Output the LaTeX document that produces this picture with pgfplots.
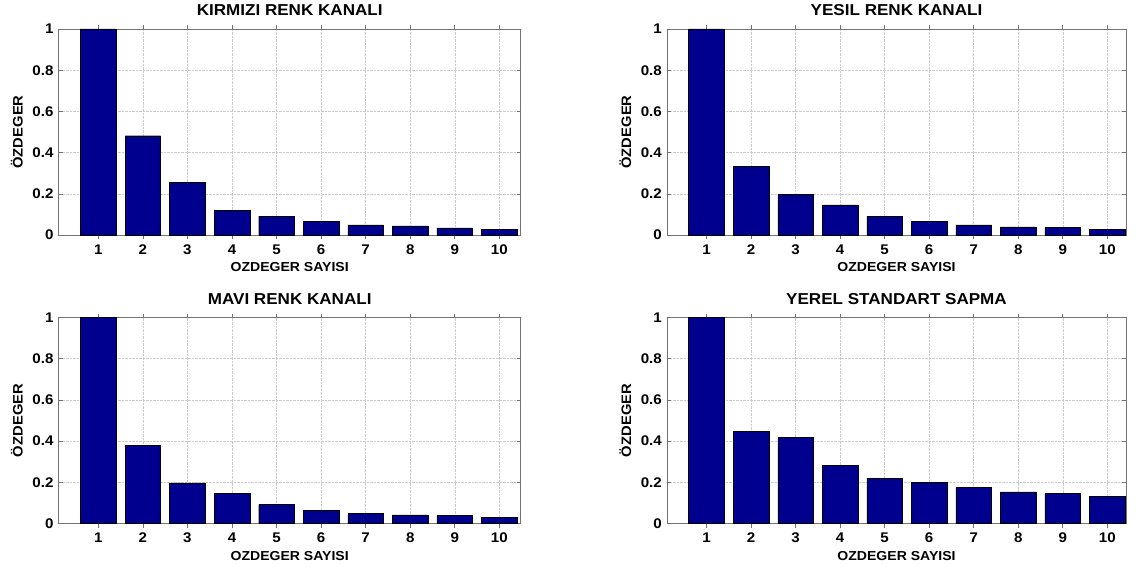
\documentclass[border=0pt]{standalone}
\usepackage{fontspec}
\setmainfont{Liberation Sans}[FakeStretch=1.08]
\usepackage{pgfplots}
\pgfplotsset{compat=1.18}
\definecolor{barblue}{RGB}{0,0,143}
\pgfplotsset{every axis title shift=0pt}
\pgfplotsset{panel/.style={
  scale only axis, anchor=south west,
  height=206pt,
  ymin=0, ymax=1, ytick={0,0.2,0.4,0.6,0.8,1},
  xtick={1,...,10},
  grid=major, major grid style={densely dotted, black!20, line width=0.5pt},
  axis line style={black!55, line width=0.6pt},
  tick style={black!55, line width=0.6pt}, tick align=inside, major tick length=4pt,
  /pgf/number format/assume math mode=true,
  ticklabel style={font=\fontsize{14}{17}\selectfont\bfseries},
  xticklabel style={anchor=base, inner sep=0pt, yshift=-15pt},
  yticklabel style={anchor=east, inner sep=0pt, xshift=-5pt},
  title style={at={(axis description cs:0.5,1)}, anchor=base, yshift=13pt, font=\fontsize{15.8}{19}\selectfont\bfseries},
  xlabel style={at={(axis description cs:0.5,0)}, anchor=base, yshift=-36.5pt, font=\fontsize{13}{16}\selectfont\bfseries},
  ylabel style={at={(axis description cs:-0.078,0.5)}, anchor=base, font=\fontsize{13.7}{16}\selectfont\bfseries},
  xlabel={OZDEGER SAYISI}, ylabel={ÖZDEGER},
  ybar, bar width=0.8,
}}
\begin{document}
\begin{tikzpicture}
\path[use as bounding box] (0,0) rectangle (1139pt,574pt);
\begin{axis}[panel, at={(58.7pt,339pt)}, width=462pt, xmin=0.111, xmax=10.48, title={KIRMIZI RENK KANALI}]
\addplot[fill=barblue, draw=black, line width=0.4pt] coordinates {(1,1) (2,0.482) (3,0.254) (4,0.120) (5,0.092) (6,0.066) (7,0.049) (8,0.044) (9,0.034) (10,0.029)};
\end{axis}
\begin{axis}[panel, at={(667pt,339pt)}, width=459pt, xmin=0.113, xmax=10.42, title={YESIL RENK KANALI}]
\addplot[fill=barblue, draw=black, line width=0.4pt] coordinates {(1,1) (2,0.333) (3,0.197) (4,0.146) (5,0.091) (6,0.066) (7,0.049) (8,0.040) (9,0.037) (10,0.029)};
\end{axis}
\begin{axis}[panel, at={(58.7pt,50.5pt)}, width=462pt, xmin=0.111, xmax=10.48, title={MAVI RENK KANALI}]
\addplot[fill=barblue, draw=black, line width=0.4pt] coordinates {(1,1) (2,0.378) (3,0.197) (4,0.147) (5,0.092) (6,0.065) (7,0.048) (8,0.042) (9,0.039) (10,0.031)};
\end{axis}
\begin{axis}[panel, at={(667pt,50.5pt)}, width=459pt, xmin=0.113, xmax=10.42, title={YEREL STANDART SAPMA}]
\addplot[fill=barblue, draw=black, line width=0.4pt] coordinates {(1,1) (2,0.447) (3,0.417) (4,0.284) (5,0.218) (6,0.199) (7,0.175) (8,0.153) (9,0.145) (10,0.133)};
\end{axis}
\end{tikzpicture}
\end{document}
